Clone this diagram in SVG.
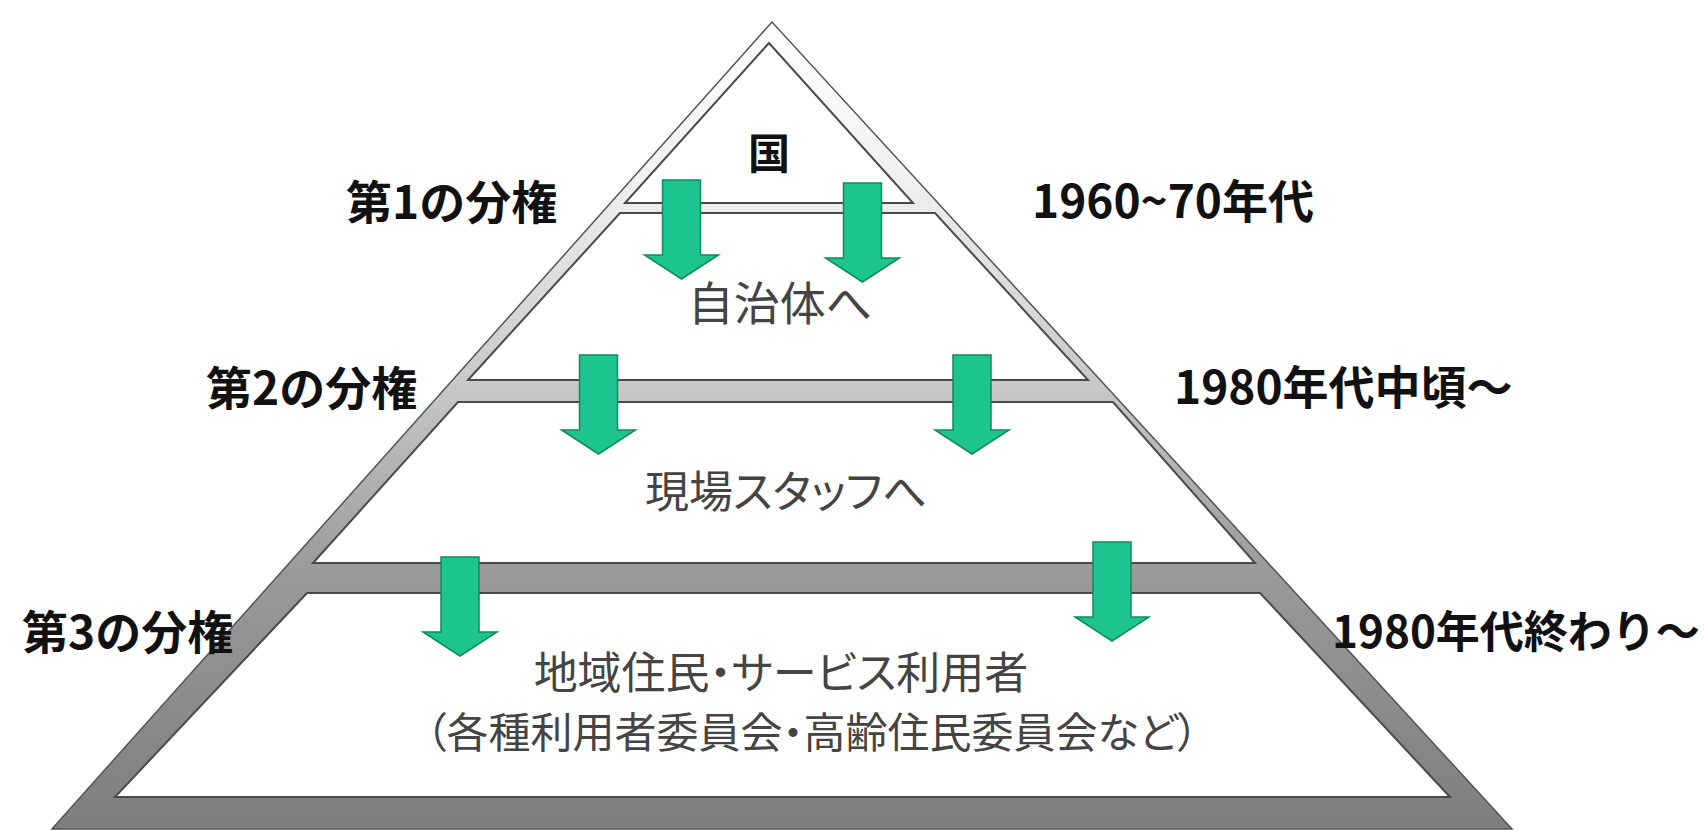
<svg xmlns="http://www.w3.org/2000/svg" width="1704" height="830" viewBox="0 0 1704 830">
  <style>
    .layer { fill: #ffffff; stroke: #4a4a4a; stroke-width: 2; stroke-linejoin: miter; }
    .frame { stroke: #555555; stroke-width: 1.5; }
    .arrow { fill: #1cc48e; stroke: #0e8a5e; stroke-width: 1.5; stroke-linejoin: miter; }
    .side { font-family: "Noto Sans CJK JP", "Liberation Sans", sans-serif; font-weight: 700; font-size: 46px; fill: #111111; }
    .side-sm { font-size: 44px; }
    .inner { font-family: "Noto Sans CJK JP", "Liberation Sans", sans-serif; font-weight: 400; fill: #444444; text-anchor: middle; font-feature-settings: "palt"; }
    .top { font-family: "Noto Sans CJK JP", sans-serif; font-weight: 700; font-size: 42px; fill: #111111; text-anchor: middle; }
  </style>
  <defs>
    <linearGradient id="band" gradientUnits="userSpaceOnUse" x1="0" y1="22" x2="0" y2="828">
      <stop offset="0" stop-color="#ffffff"/>
      <stop offset="0.2" stop-color="#f0f0f0"/>
      <stop offset="0.45" stop-color="#c8c8c8"/>
      <stop offset="0.68" stop-color="#9a9a9a"/>
      <stop offset="1" stop-color="#7e7e7e"/>
    </linearGradient>
    <path id="arr" d="M -19 0 H 19 V 75 H 37 L 0 99 L -37 75 H -19 Z"/>
  </defs>
  <rect width="1704" height="830" fill="#ffffff"/>

  <g id="pyramid">
    <polygon class="frame" fill="url(#band)" points="772,22 52,829 1512,829"/>
  </g>

  <g id="node-kuni">
    <polygon class="layer" points="769,43 625,203 913,203"/>
    <text class="top" x="769" y="169">国</text>
  </g>
  <g id="node-jichitai">
    <polygon class="layer" points="620,213 935,213 1088,380 468,380"/>
    <text class="inner" x="780" y="320" font-size="46">自治体へ</text>
  </g>
  <g id="node-genba">
    <polygon class="layer" points="458,402 1113,402 1255,563 313,563"/>
    <text class="inner" x="786" y="508" font-size="44">現場スタッフへ</text>
  </g>
  <g id="node-jumin">
    <polygon class="layer" points="307,593 1260,593 1450,797 115,797"/>
    <text class="inner" x="781" y="689" font-size="44">地域住民・サービス利用者</text>
    <text class="inner" x="812" y="748" font-size="42">（各種利用者委員会・高齢住民委員会など）</text>
  </g>

  <g id="connectors">
    <use href="#arr" class="arrow" transform="translate(681.5,180)"/>
    <use href="#arr" class="arrow" transform="translate(862.5,183)"/>
    <use href="#arr" class="arrow" transform="translate(598.5,355)"/>
    <use href="#arr" class="arrow" transform="translate(972,355)"/>
    <use href="#arr" class="arrow" transform="translate(460,557)"/>
    <use href="#arr" class="arrow" transform="translate(1112,542)"/>
  </g>

  <g id="labels-left">
    <text class="side" x="346" y="219">第1の分権</text>
    <text class="side" x="206" y="405">第2の分権</text>
    <text class="side" x="22" y="649">第3の分権</text>
  </g>
  <g id="labels-right">
    <text class="side" x="1032" y="218">1960~70年代</text>
    <text class="side" x="1174" y="404">1980年代中頃〜</text>
    <text class="side side-sm" x="1332" y="648">1980年代終わり〜</text>
  </g>
</svg>
